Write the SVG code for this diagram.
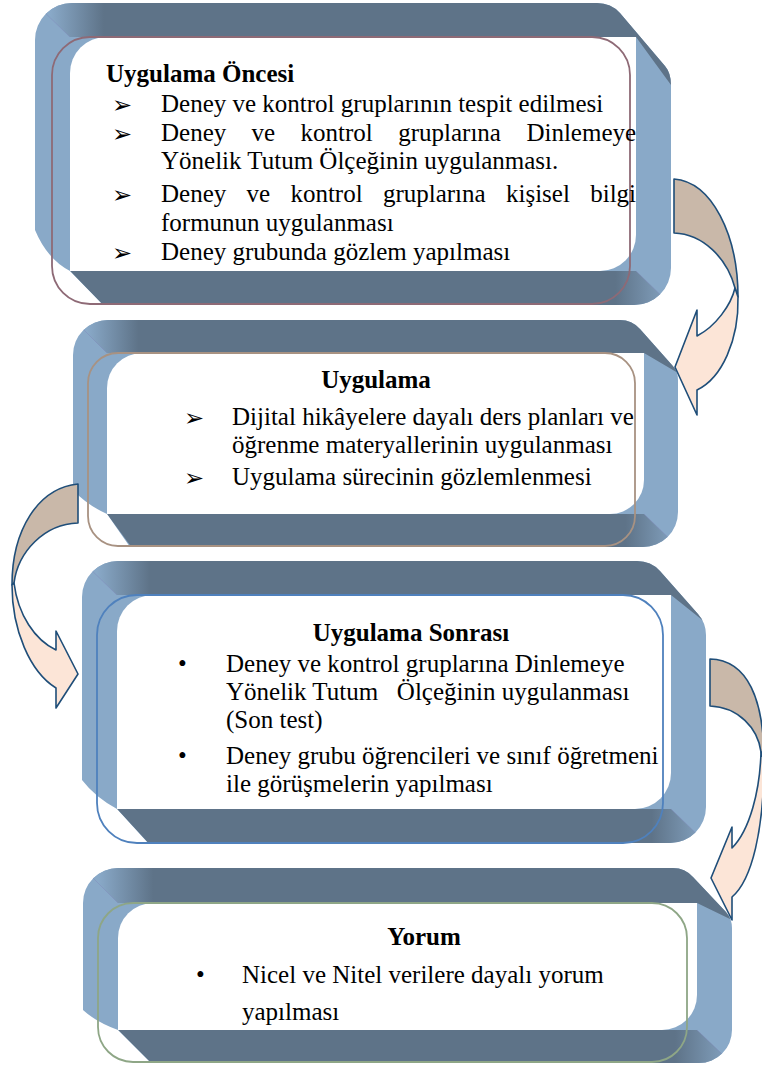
<svg xmlns="http://www.w3.org/2000/svg" width="762" height="1065" viewBox="0 0 762 1065">
<defs>
<style>
.blue{fill:#89a9c8}
.top{fill:url(#gTop)}
.bot{fill:url(#gBot)}
.white{fill:#ffffff}
.fold{stroke:#7f84b8;stroke-width:0.8;opacity:0.5;fill:none}
.ol{fill:none;stroke-width:1.8}
.t{font-family:"Liberation Serif","Times New Roman",serif;font-size:25px;fill:#000}
.h{font-family:"Liberation Serif","Times New Roman",serif;font-size:25px;font-weight:bold;fill:#000}
.ar{font-family:"DejaVu Sans",sans-serif;font-size:24px;font-weight:bold;fill:#000}
.back{fill:#c9b8a9;stroke:#1f4e79;stroke-width:1.6;stroke-linejoin:round}
.front{fill:#fce5d7;stroke:#1f4e79;stroke-width:1.6;stroke-linejoin:round}
</style>
<linearGradient id="gTop" x1="0" y1="0" x2="1" y2="0">
<stop offset="0" stop-color="#89a9c8"/>
<stop offset="0.03" stop-color="#89a9c8"/>
<stop offset="0.11" stop-color="#5e7388"/>
<stop offset="1" stop-color="#5e7388"/>
</linearGradient>
<linearGradient id="gBot" x1="0" y1="0" x2="1" y2="0">
<stop offset="0" stop-color="#5e7388"/>
<stop offset="0.9" stop-color="#5e7388"/>
<stop offset="1" stop-color="#89a9c8"/>
</linearGradient>
<clipPath id="c1"><path d="M72,3 H597 Q611,3 620,13 L665,66 Q671,73 671,85 V268 A37,37 0 0 1 634,305 H103 L70,271 Q47,259 35,230 V40 A37,37 0 0 1 72,3 Z"/></clipPath>
<clipPath id="c2"><path d="M108,320 H620 Q632,320 640,329 L672,365 Q678,371 678,380 V512 A35,35 0 0 1 643,547 H130 L107,514 Q87,505 73,490 V355 A35,35 0 0 1 108,320 Z"/></clipPath>
<clipPath id="c3"><path d="M118,561 H637 Q651,561 660,571 L698,614 Q706,623 706,635 V807 A36,36 0 0 1 670,843 H148 L117,809 Q95,797 82,780 V597 A36,36 0 0 1 118,561 Z"/></clipPath>
<clipPath id="c4"><path d="M118,868 H673 Q685,868 693,877 L726,912 Q732,919 732,928 V1030 A33,33 0 0 1 699,1063 H151 L118,1030 Q96,1022 83,1010 V903 A35,35 0 0 1 118,868 Z"/></clipPath>
</defs>
<rect width="762" height="1065" fill="#ffffff"/>

<g id="node-uygulama-oncesi">
<g clip-path="url(#c1)">
<rect class="blue" x="30" y="0" width="650" height="310"/>
<polygon class="top" points="30,-2 701,-2 701,85 671,85 636,37 70,37"/>
<polygon class="bot" points="70,271 636,271 676,310 108,310"/>
<line class="fold" x1="38" y1="6" x2="70" y2="37"/>
<line class="fold" x1="636" y1="271" x2="671" y2="305"/>
</g>
<path class="white" d="M106,37 H636 V235 A36,36 0 0 1 600,271 H70 V73 A36,36 0 0 1 106,37 Z"/>
<rect class="ol" x="52" y="37" width="578" height="267" rx="38" stroke="#8e6a76"/>
<text class="h" x="106" y="82">Uygulama Öncesi</text>
<text class="ar" x="112" y="113">➢</text>
<text class="t" x="161" y="112">Deney ve kontrol gruplarının tespit edilmesi</text>
<text class="ar" x="112" y="142">➢</text>
<text class="t" y="141"><tspan x="161">Deney</tspan><tspan x="251.6">ve</tspan><tspan x="300.6">kontrol</tspan><tspan x="398.2">gruplarına</tspan><tspan x="526.4">Dinlemeye</tspan></text>
<text class="t" x="161" y="169">Yönelik Tutum Ölçeğinin uygulanması.</text>
<text class="ar" x="112" y="203">➢</text>
<text class="t" y="202"><tspan x="161">Deney</tspan><tspan x="246.5">ve</tspan><tspan x="290.4">kontrol</tspan><tspan x="382.9">gruplarına</tspan><tspan x="506">kişisel</tspan><tspan x="590.2">bilgi</tspan></text>
<text class="t" x="161" y="231">formunun uygulanması</text>
<text class="ar" x="112" y="261">➢</text>
<text class="t" x="161" y="260">Deney grubunda gözlem yapılması</text>
</g>

<g id="node-uygulama">
<g clip-path="url(#c2)">
<rect class="blue" x="68" y="315" width="615" height="237"/>
<polygon class="top" points="68,315 708,315 708,373 678,373 644,353 107,353"/>
<polygon class="bot" points="107,514 644,514 683,552 135,552"/>
<line class="fold" x1="76" y1="322" x2="107" y2="353"/>
<line class="fold" x1="644" y1="514" x2="677" y2="546"/>
</g>
<path class="white" d="M142,353 H644 V480 A34,34 0 0 1 610,514 H107 V388 A35,35 0 0 1 142,353 Z"/>
<rect class="ol" x="88" y="353" width="547" height="193" rx="30" stroke="#a89282"/>
<text class="h" x="376" y="388" text-anchor="middle">Uygulama</text>
<text class="ar" x="184" y="426">➢</text>
<text class="t" x="232" y="425">Dijital hikâyelere dayalı ders planları ve</text>
<text class="t" x="232" y="453">öğrenme materyallerinin uygulanması</text>
<text class="ar" x="184" y="486">➢</text>
<text class="t" x="232" y="485">Uygulama sürecinin gözlemlenmesi</text>
</g>

<g id="node-uygulama-sonrasi">
<g clip-path="url(#c3)">
<rect class="blue" x="77" y="556" width="634" height="292"/>
<polygon class="top" points="77,556 736,556 736,623 706,623 671,595 117,595"/>
<polygon class="bot" points="117,809 671,809 711,848 153,848"/>
<line class="fold" x1="85" y1="564" x2="117" y2="595"/>
<line class="fold" x1="671" y1="809" x2="705" y2="842"/>
</g>
<path class="white" d="M153,595 H671 V773 A36,36 0 0 1 635,809 H117 V631 A36,36 0 0 1 153,595 Z"/>
<rect class="ol" x="97" y="595" width="566" height="248" rx="40" stroke="#4f81bd"/>
<text class="h" x="411" y="641" text-anchor="middle">Uygulama Sonrası</text>
<text class="t" x="178" y="672">•</text>
<text class="t" x="226" y="672">Deney ve kontrol gruplarına Dinlemeye</text>
<text class="t" x="226" y="700" style="white-space:pre">Yönelik Tutum   Ölçeğinin uygulanması</text>
<text class="t" x="226" y="728">(Son test)</text>
<text class="t" x="178" y="764">•</text>
<text class="t" x="226" y="764">Deney grubu öğrencileri ve sınıf öğretmeni</text>
<text class="t" x="226" y="792">ile görüşmelerin yapılması</text>
</g>

<g id="node-yorum">
<g clip-path="url(#c4)">
<rect class="blue" x="78" y="863" width="660" height="205"/>
<polygon class="top" points="78,863 762,863 762,920 732,920 697,903 118,903"/>
<polygon class="bot" points="118,1030 697,1030 737,1068 156,1068"/>
<line class="fold" x1="86" y1="871" x2="118" y2="903"/>
<line class="fold" x1="697" y1="1030" x2="730" y2="1062"/>
</g>
<path class="white" d="M153,903 H697 V995 A35,35 0 0 1 662,1030 H118 V938 A35,35 0 0 1 153,903 Z"/>
<rect class="ol" x="98" y="903" width="589" height="159" rx="35" stroke="#8ea686"/>
<text class="h" x="424" y="945" text-anchor="middle">Yorum</text>
<text class="t" x="196" y="983">•</text>
<text class="t" x="242" y="983">Nicel ve Nitel verilere dayalı yorum</text>
<text class="t" x="242" y="1020">yapılması</text>
</g>

<g id="connectors">
<g id="arrow-1">
<path class="back" d="M674,179 C712,182 738,235 738,297 L735,288 C727,258 703,234 674,233 Z"/>
<path class="front" d="M735,288 C731,305 716,326 697,336 L697,310 L675,367 L697,415 L697,390 C722,378 739,340 738,297 Z"/>
</g>
<g id="arrow-2">
<path class="back" d="M78,484 C38,488 12,530 12,585 L14,583 C18,552 44,524 78,523 Z"/>
<path class="front" d="M14,583 C18,615 35,640 56,650 L56,631 L78,674 L56,708 L56,688 C30,672 12,630 12,585 Z"/>
</g>
<g id="arrow-3">
<path class="back" d="M710,659 C748,660 764,700 764,760 L761,752 C758,728 738,707 710,706 Z"/>
<path class="front" d="M761,752 C760,790 750,830 732,848 L732,827 L711,878 L732,920 L732,897 C752,880 764,830 764,760 Z"/>
</g>
</g>
</svg>
